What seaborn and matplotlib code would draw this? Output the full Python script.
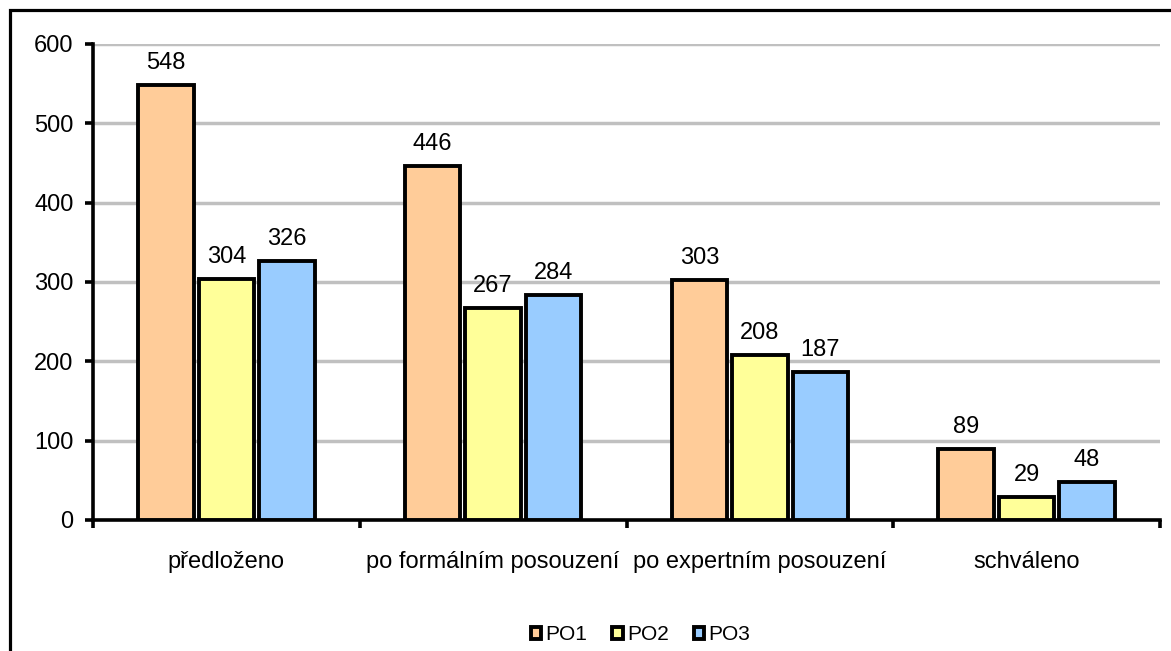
import pandas as pd
import numpy as np
from matplotlib import pyplot as plt
from matplotlib.patches import Patch, Rectangle
import seaborn as sns

categories = ["předloženo", "po formálním posouzení", "po expertním posouzení", "schváleno"]
series = ["PO1", "PO2", "PO3"]
po1 = [548, 446, 303, 89]
po2 = [304, 267, 208, 29]
po3 = [326, 284, 187, 48]
colors = ["#FFCC99", "#FFFF99", "#99CCFF"]

rows = []
for name, vals in zip(series, [po1, po2, po3]):
    for cat, v in zip(categories, vals):
        rows.append({"kategorie": cat, "řada": name, "počet": v})
df = pd.DataFrame(rows)

sns.set_theme(style="white")
plt.rcParams['font.family'] = ['Liberation Sans', 'DejaVu Sans']
plt.rcParams['text.color'] = 'black'
plt.rcParams['xtick.color'] = 'black'
plt.rcParams['ytick.color'] = 'black'
plt.rcParams['axes.labelcolor'] = 'black'

fig = plt.figure(figsize=(11.71, 6.51), dpi=100)
ax = fig.add_axes([93 / 1171, 1 - 520 / 651, (1160 - 93) / 1171, (520 - 44) / 651])

sns.barplot(data=df, x="kategorie", y="počet", hue="řada", palette=colors, saturation=1,
            width=0.68, gap=0.08, edgecolor="black", linewidth=2.8,
            legend=False, ax=ax, zorder=3)

for c in ax.containers:
    ax.bar_label(c, padding=8, fontsize=17, color="black")

ax.set_ylim(0, 600)
ax.set_xlim(-0.5, 3.5)
ax.set_yticks(range(0, 601, 100))
ax.yaxis.grid(True, color="#C0C0C0", linewidth=2.5, zorder=0)
ax.set_axisbelow(True)
ax.set_xlabel("")
ax.set_ylabel("")

for s in ["top", "right"]:
    ax.spines[s].set_visible(False)
for s in ["left", "bottom"]:
    ax.spines[s].set_color("black")
    ax.spines[s].set_linewidth(2.6)

ax.tick_params(axis="y", left=True, length=6, width=2.6, color="black", labelsize=17, pad=8)
ax.tick_params(axis="x", which="major", length=0, labelsize=17, pad=22)
ax.set_xticks(np.arange(-0.5, 3.6, 1), minor=True)
ax.tick_params(axis="x", which="minor", bottom=True, length=6, width=2.6, color="black")

handles = [Patch(facecolor=c, edgecolor="black", linewidth=2.8, label=n) for c, n in zip(colors, series)]
fig.legend(handles=handles, loc="center", bbox_to_anchor=(0.547, 1 - 635 / 651),
           ncol=3, frameon=False, fontsize=15, handlelength=0.5, handleheight=0.5,
           handletextpad=0.2, columnspacing=1.2)

fig.patches.append(Rectangle((10 / 1171, -0.1), 1.2, 1 - 10 / 651 + 0.1, transform=fig.transFigure,
                             fill=False, edgecolor="black", linewidth=2.3))

fig.savefig("out.png", dpi=100)
